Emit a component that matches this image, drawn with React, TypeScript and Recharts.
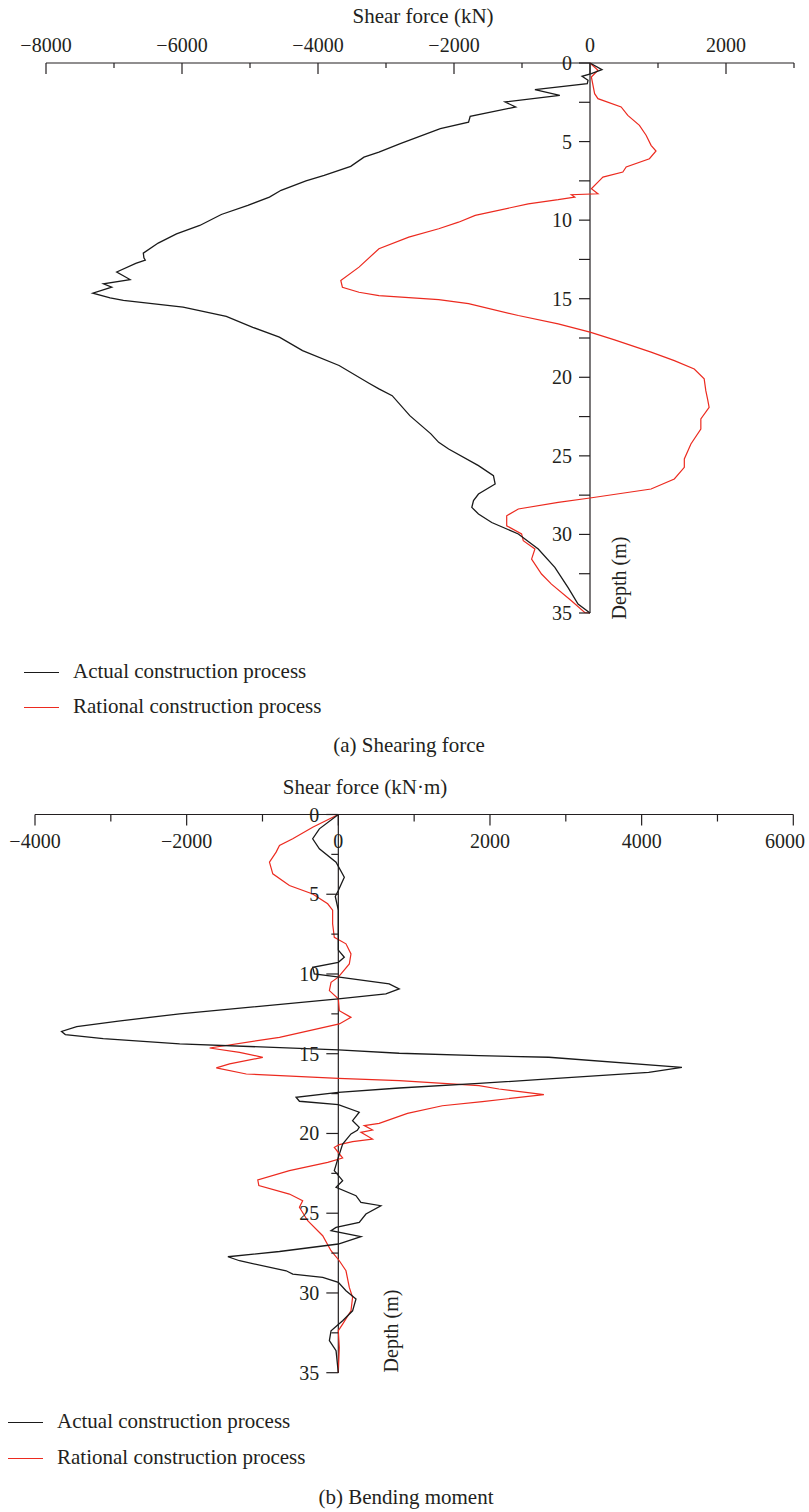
import React from "react";
import { ScatterChart, Scatter, XAxis, YAxis, ReferenceLine } from "recharts";

// (a) shearing force, kN  (depth in m)
const shearActualDepth = [
  0, 0.42, 0.68, 0.85, 1.1, 1.31, 1.7, 2.06, 2.48, 2.8, 3.4, 3.76, 4.18, 5.13, 5.67, 5.99, 6.58, 7.15, 7.5,
  8.1, 8.53, 9.06, 9.64, 10.34, 10.87, 11.46, 12.1, 12.4, 12.55, 12.75, 13.3, 13.78, 14.05, 14.27, 14.65,
  14.94, 15.11, 15.54, 16.13, 16.82, 17.45, 18.3, 19.25, 20.38, 20.74, 21.17, 22.44, 23.6, 24.14, 24.56,
  25.62, 26.26, 26.79, 27.43, 27.85, 28.28, 28.7, 29.24, 29.97, 30.93, 32.1, 33.38, 34.43, 35,
];
const shearActualValue = [
  0, 176, 20, -117, -29, -40, -810, -444, -1249, -1093, -1762, -1786, -2201, -2790, -3104, -3324, -3519,
  -3909, -4177, -4543, -4714, -5032, -5422, -5739, -6081, -6350, -6569, -6560, -6540, -6680, -6960, -6764,
  -7155, -7033, -7311, -7057, -6862, -5984, -5349, -4959, -4568, -4227, -3690, -3250, -3104, -2909, -2650,
  -2340, -2225, -2079, -1640, -1420, -1395, -1640, -1713, -1738, -1640, -1445, -1054, -761, -517, -322, -176, 0,
];
const shearRationalDepth = [
  0, 0.46, 0.89, 1.95, 2.27, 2.8, 3.33, 3.97, 4.6, 5.24, 5.6, 6.09, 6.62, 6.94, 7.26, 7.47, 8.0, 8.32, 8.38,
  8.53, 8.7, 8.96, 9.7, 10.13, 10.55, 11.08, 11.82, 12.99, 13.84, 14.27, 14.59, 14.8, 15.06, 15.31, 16.07,
  16.6, 17.13, 17.62, 18.4, 18.94, 19.47, 20.1, 20.85, 21.4, 21.91, 22.65, 23.29, 24.24, 25.2, 25.73, 26.47,
  27.11, 27.68, 27.96, 28.38, 28.81, 29.45, 29.97, 30.4, 30.93, 31.57, 32.52, 33.16, 34.22, 34.97, 35,
];
const shearRationalValue = [
  0, 117, 20, 68, 117, 458, 556, 727, 825, 898, 971, 874, 532, 483, 190, 142, 20, 117, -274, -224, -468,
  -908, -1688, -1933, -2225, -2665, -3104, -3397, -3665, -3641, -3397, -3104, -2225, -1786, -1054, -468, 0,
  361, 898, 1240, 1533, 1679, 1703, 1730, 1752, 1630, 1630, 1484, 1387, 1387, 1240, 898, 0, -468, -1054,
  -1225, -1225, -1006, -981, -810, -859, -713, -567, -274, -78, 0,
];

// (b) bending moment, kN·m
const momentActualDepth = [
  0, 0.9, 1.52, 2.15, 2.99, 3.93, 4.77, 5.14, 6.0, 8.5, 8.95, 9.27, 9.58, 10.0, 10.2, 10.62, 10.94, 11.25,
  11.56, 12.5, 12.95, 13.3, 13.6, 13.8, 14.05, 14.38, 14.76, 14.97, 15.12, 15.22, 15.85, 16.17, 16.58, 16.86,
  17.15, 17.42, 17.73, 17.98, 18.19, 18.67, 19.2, 19.62, 19.8, 20.03, 20.66, 21.5, 22.33, 22.96, 23.38, 23.9,
  24.32, 24.53, 25.05, 25.58, 25.89, 26.1, 26.47, 26.93, 27.4, 27.73, 27.98, 28.61, 28.82, 29.02, 29.34,
  29.86, 30.38, 31.12, 31.74, 32.37, 32.99, 33.62, 35,
];
const momentActualValue = [
  0, -250, -338, -250, -30, 79, 0, -40, 0, 0, 79, 0, -338, -316, 13, 671, 803, 627, 0, -2092, -2900, -3450,
  -3650, -3600, -3100, -2092, 0, 803, 1855, 2776, 4531, 4093, 2776, 1855, 803, 0, -557, -513, 0, 276, 188,
  276, 250, 167, 57, 0, -53, 57, -30, 233, 298, 561, 364, 276, -30, -96, 298, 0, -776, -1456, -1303, -688,
  -601, -206, 0, 101, 233, 188, 57, -96, -118, -30, 0,
];
const momentRationalDepth = [
  0, 0.8, 1.52, 1.94, 2.36, 2.99, 3.72, 4.45, 4.98, 5.6, 6.0, 6.86, 7.7, 8.11, 8.74, 9.37, 10.2, 10.52,
  11.04, 11.56, 12.3, 12.72, 13.13, 13.97, 14.64, 14.91, 15.23, 15.64, 15.89, 16.27, 16.54, 16.69, 17.0,
  17.21, 17.57, 18.0, 18.26, 18.74, 19.37, 19.51, 19.78, 19.93, 20.35, 20.51, 20.7, 20.87, 21.54, 21.81,
  22.33, 22.92, 23.27, 23.8, 24.22, 24.63, 25.47, 26.41, 27.35, 27.98, 28.61, 29.65, 30.28, 31.12, 31.95,
  32.37, 33.42, 35,
];
const momentRationalValue = [
  0, -338, -601, -776, -820, -908, -864, -645, -338, -140, -75, -75, -53, 101, 167, 145, 0, -96, -118, 0,
  13, 167, 13, -776, -1697, -1303, -996, -1434, -1609, -1214, 0, 803, 1855, 2118, 2711, 1900, 1372, 912,
  539, 342, 451, 298, 451, 188, 13, -53, 57, -140, -645, -1062, -1048, -645, -470, -513, -404, -206, -96,
  13, 101, 145, 188, 167, 57, 0, 13, 0,
];

const depthTicks = [0, 2.5, 5, 7.5, 10, 12.5, 15, 17.5, 20, 22.5, 25, 27.5, 30, 32.5, 35];
const shearTicks = [-8000, -7000, -6000, -5000, -4000, -3000, -2000, -1000, 0, 1000, 2000, 3000];
const momentTicks = [-4000, -3000, -2000, -1000, 0, 1000, 2000, 3000, 4000, 5000, 6000];

const FONT = '"Liberation Serif", "Times New Roman", serif';
const INK = "#231f20";
const BLACK = "#1a1a1a";
const RED = "#ec2a1f";
const W = 809;

const toPoints = (depth: number[], value: number[]) => depth.map((d, i) => ({ x: value[i], y: d }));

const fmt = (v: number) => (v < 0 ? `\u2212${Math.abs(v)}` : `${v}`);

type Margin = { top: number; right: number; bottom: number; left: number };

interface PanelProps {
  top: number;
  height: number;
  margin: Margin;
  xDomain: [number, number];
  xTicks: number[];
  labelsAbove: boolean;
  xMinorLen: number;
  yMinorLen: number;
  yMajorLen: number;
  actual: { x: number; y: number }[];
  rational: { x: number; y: number }[];
}

// the y axis needs a non-zero width or recharts skips drawing it
const Y_AXIS_W = 1;

const Panel: React.FC<PanelProps> = (p) => {
  const plotLeft = p.margin.left + Y_AXIS_W;
  const plotW = W - plotLeft - p.margin.right;
  // pixel column of force = 0, where the depth axis stands
  const xZero = plotLeft + ((0 - p.xDomain[0]) / (p.xDomain[1] - p.xDomain[0])) * plotW;

  const renderXTick = (props: any) => {
    const { x, y, payload } = props;
    const major = payload.value % 2000 === 0;
    // keep the last label inside the page
    const labelX = Math.min(x, W - 24);
    return (
      <g>
        <line x1={x} x2={x} y1={y} y2={y + (major ? 11 : p.xMinorLen)} stroke={INK} strokeWidth={1.2} />
        {major && (
          <text x={labelX} y={p.labelsAbove ? y - 11 : y + 33} textAnchor="middle" fontSize={20} fontFamily={FONT} fill={INK}>
            {fmt(payload.value)}
          </text>
        )}
      </g>
    );
  };

  const renderYTick = (props: any) => {
    const { y, payload } = props;
    const major = payload.value % 5 === 0;
    const len = major ? p.yMajorLen : p.yMinorLen;
    return (
      <g>
        <line x1={xZero - len} x2={xZero} y1={y} y2={y} stroke={INK} strokeWidth={1.2} />
        {major && (
          <text x={xZero - p.yMajorLen - 7} y={y + 7} textAnchor="end" fontSize={20} fontFamily={FONT} fill={INK}>
            {payload.value}
          </text>
        )}
      </g>
    );
  };

  return (
    <div style={{ position: "absolute", left: 0, top: p.top }}>
      <ScatterChart width={W} height={p.height} margin={p.margin}>
        <XAxis
          type="number"
          dataKey="x"
          orientation="top"
          domain={p.xDomain}
          ticks={p.xTicks}
          interval={0}
          height={30}
          axisLine={{ stroke: INK, strokeWidth: 1.2 }}
          tickLine={false}
          tickSize={0}
          tickMargin={0}
          tick={renderXTick}
        />
        <YAxis
          type="number"
          dataKey="y"
          domain={[0, 35]}
          reversed
          ticks={depthTicks}
          interval={0}
          width={Y_AXIS_W}
          axisLine={false}
          tickLine={false}
          tickSize={0}
          tickMargin={0}
          tick={renderYTick}
        />
        <ReferenceLine x={0} stroke={INK} strokeWidth={1.2} />
        <Scatter
          data={p.rational}
          line={{ stroke: RED, strokeWidth: 1.2 }}
          lineType="joint"
          shape={() => <g />}
          isAnimationActive={false}
        />
        <Scatter
          data={p.actual}
          line={{ stroke: BLACK, strokeWidth: 1.3 }}
          lineType="joint"
          shape={() => <g />}
          isAnimationActive={false}
        />
      </ScatterChart>
    </div>
  );
};

const textStyle: React.CSSProperties = {
  position: "absolute",
  fontFamily: FONT,
  color: INK,
  whiteSpace: "nowrap",
  lineHeight: 1,
};

const Centered = ({ x, y, size, children }: { x: number; y: number; size: number; children: React.ReactNode }) => (
  <div style={{ ...textStyle, left: x, top: y, fontSize: size, transform: "translate(-50%, -50%)" }}>{children}</div>
);

const DepthLabel = ({ x, y }: { x: number; y: number }) => (
  <div style={{ ...textStyle, left: x, top: y, fontSize: 20, transform: "translate(-50%, -50%) rotate(-90deg)" }}>
    Depth (m)
  </div>
);

const LegendRow = ({ x, lineW, y, color, label }: { x: number; lineW: number; y: number; color: string; label: string }) => (
  <>
    <div style={{ position: "absolute", left: x, top: y - 0.6, width: lineW, height: 0, borderTop: `1.3px solid ${color}` }} />
    <div style={{ ...textStyle, left: x + lineW + 14, top: y, fontSize: 21, transform: "translateY(-55%)" }}>{label}</div>
  </>
);

export default function App() {
  return (
    <div style={{ position: "absolute", left: 0, top: 0, width: W, height: 1512, background: "#fff" }}>
      <Panel
        top={0}
        height={630}
        margin={{ top: 33, right: 15, bottom: 17, left: 45 }}
        xDomain={[-8000, 3000]}
        xTicks={shearTicks}
        labelsAbove
        xMinorLen={5}
        yMinorLen={11}
        yMajorLen={11}
        actual={toPoints(shearActualDepth, shearActualValue)}
        rational={toPoints(shearRationalDepth, shearRationalValue)}
      />
      <Centered x={423} y={16} size={21}>Shear force (kN)</Centered>
      <DepthLabel x={619} y={578} />
      <LegendRow x={24} lineW={35} y={673} color={BLACK} label="Actual construction process" />
      <LegendRow x={24} lineW={35} y={708} color={RED} label="Rational construction process" />
      <Centered x={409} y={745} size={21}>(a) Shearing force</Centered>

      <Panel
        top={760}
        height={630}
        margin={{ top: 24.5, right: 15.7, bottom: 17.3, left: 34 }}
        xDomain={[-4000, 6000]}
        xTicks={momentTicks}
        labelsAbove={false}
        xMinorLen={7}
        yMinorLen={7}
        yMajorLen={12}
        actual={toPoints(momentActualDepth, momentActualValue)}
        rational={toPoints(momentRationalDepth, momentRationalValue)}
      />
      <Centered x={365} y={787} size={21}>Shear force (kN·m)</Centered>
      <DepthLabel x={391} y={1331} />
      <LegendRow x={8} lineW={35} y={1423} color={BLACK} label="Actual construction process" />
      <LegendRow x={8} lineW={35} y={1459} color={RED} label="Rational construction process" />
      <Centered x={406} y={1497} size={21}>(b) Bending moment</Centered>
    </div>
  );
}
